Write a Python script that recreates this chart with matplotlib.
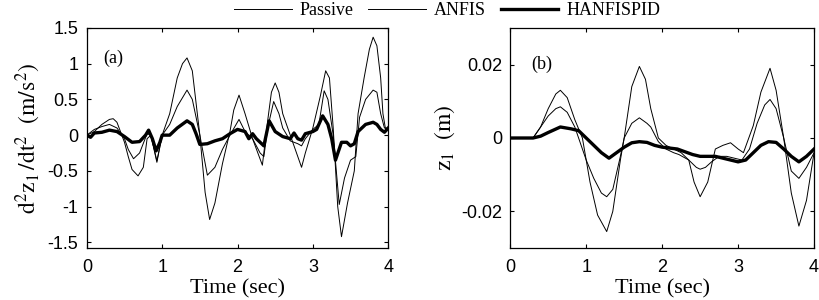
import numpy as np
import matplotlib
matplotlib.use("Agg")
import matplotlib.pyplot as plt

plt.rcParams['mathtext.fontset'] = 'stix'

# ---------- (a) sprung mass acceleration ----------
ta_passive = [0, 0.1, 0.2, 0.3, 0.35, 0.4, 0.5, 0.55, 0.6, 0.68, 0.75, 0.8, 0.85, 0.93, 1.0,
              1.1, 1.2, 1.27, 1.33, 1.4, 1.5, 1.57, 1.63, 1.7, 1.8, 1.9, 1.95, 2.02, 2.1, 2.2,
              2.27, 2.33, 2.4, 2.45, 2.5, 2.55, 2.6, 2.7, 2.8, 2.85, 2.9, 3.0, 3.1, 3.17, 3.22,
              3.27, 3.33, 3.38, 3.46, 3.55, 3.6, 3.68, 3.75, 3.8, 3.85, 3.9, 3.93, 3.97, 4.0]
a_passive = [0, 0.05, 0.15, 0.22, 0.23, 0.18, -0.1, -0.3, -0.48, -0.57, -0.45, -0.05, 0.0, -0.38, 0.0,
             0.3, 0.8, 1.0, 1.08, 0.9, 0.0, -0.8, -1.18, -0.95, -0.4, 0.05, 0.35, 0.56, 0.3, -0.05,
             -0.25, -0.42, 0.2, 0.6, 0.73, 0.6, 0.3, 0.0, -0.3, -0.45, -0.25, 0.1, 0.55, 0.9, 0.8,
             0.1, -1.0, -1.42, -0.95, -0.5, 0.3, 0.8, 1.2, 1.37, 1.25, 0.8, 0.3, 0.05, 0.1]

ta_anfis = [0, 0.1, 0.2, 0.3, 0.4, 0.5, 0.55, 0.62, 0.7, 0.8, 0.85, 0.93, 1.0, 1.1, 1.2, 1.33,
            1.4, 1.5, 1.6, 1.7, 1.8, 1.9, 2.02, 2.1, 2.2, 2.3, 2.35, 2.4, 2.48, 2.55, 2.6, 2.7,
            2.8, 2.85, 2.9, 3.0, 3.08, 3.15, 3.2, 3.27, 3.35, 3.42, 3.5, 3.57, 3.62, 3.7, 3.8,
            3.85, 3.9, 3.95, 4.0]
a_anfis = [0, 0.08, 0.12, 0.15, 0.1, -0.05, -0.2, -0.33, -0.25, 0.02, 0.0, -0.36, 0.0, 0.15, 0.4, 0.63,
           0.5, 0.0, -0.56, -0.45, -0.2, 0.0, 0.22, 0.05, -0.05, -0.25, -0.3, 0.1, 0.47, 0.3, 0.1, -0.08,
           -0.12, -0.15, -0.05, 0.08, 0.15, 0.62, 0.5, 0.0, -0.97, -0.6, -0.35, -0.3, 0.25, 0.5, 0.63,
           0.6, 0.3, 0.1, 0.1]

ta_hanfis = [0, 0.05, 0.1, 0.2, 0.3, 0.4, 0.5, 0.6, 0.7, 0.78, 0.82, 0.87, 0.92, 0.97, 1.0, 1.1,
             1.2, 1.33, 1.4, 1.45, 1.5, 1.6, 1.7, 1.8, 1.9, 2.0, 2.1, 2.15, 2.2, 2.25, 2.3, 2.35,
             2.42, 2.5, 2.6, 2.7, 2.75, 2.8, 2.85, 2.9, 3.0, 3.05, 3.13, 3.2, 3.25, 3.3, 3.38, 3.45,
             3.5, 3.55, 3.6, 3.7, 3.8, 3.85, 3.9, 3.95, 4.0]
a_hanfis = [0, -0.03, 0.03, 0.04, 0.07, 0.05, -0.02, -0.1, -0.09, 0.0, 0.07, -0.05, -0.22, -0.1, 0.0, 0.0,
            0.1, 0.2, 0.15, 0.02, -0.13, -0.12, -0.08, -0.05, 0.02, 0.08, 0.05, -0.05, 0.02, -0.05, -0.1, -0.15,
            0.2, 0.05, -0.02, -0.05, 0.03, -0.05, -0.07, 0.02, 0.05, 0.08, 0.27, 0.15, -0.05, -0.35, -0.1, -0.1,
            -0.15, -0.12, 0.05, 0.15, 0.18, 0.15, 0.08, 0.04, 0.1]

# ---------- (b) sprung mass displacement ----------
tb_passive = [0, 0.3, 0.4, 0.5, 0.6, 0.66, 0.75, 0.85, 0.95, 1.05, 1.15, 1.27, 1.35, 1.45, 1.5,
              1.6, 1.7, 1.78, 1.85, 1.95, 2.05, 2.15, 2.25, 2.35, 2.42, 2.5, 2.6, 2.7, 2.8, 2.9,
              3.0, 3.07, 3.2, 3.3, 3.42, 3.5, 3.6, 3.7, 3.8, 3.9, 4.0]
b_passive = [0, 0, 0.003, 0.008, 0.012, 0.013, 0.011, 0.005, 0.0, -0.012, -0.021, -0.0255, -0.02, -0.006, 0.0,
             0.014, 0.0195, 0.016, 0.008, 0.0, -0.002, -0.003, -0.004, -0.006, -0.012, -0.016, -0.012, -0.003, -0.002, -0.0013,
             -0.003, -0.004, 0.0034, 0.0125, 0.019, 0.013, 0.0, -0.015, -0.024, -0.017, -0.004]

tb_anfis = [0, 0.3, 0.4, 0.5, 0.6, 0.66, 0.75, 0.85, 0.9, 1.0, 1.1, 1.2, 1.27, 1.35, 1.45, 1.5,
            1.6, 1.7, 1.8, 1.85, 1.95, 2.05, 2.15, 2.22, 2.35, 2.45, 2.5, 2.57, 2.65, 2.75, 2.85,
            2.95, 3.05, 3.15, 3.25, 3.35, 3.42, 3.5, 3.6, 3.7, 3.8, 3.9, 4.0]
b_anfis = [0, 0, 0.003, 0.006, 0.008, 0.0085, 0.007, 0.003, 0.0, -0.006, -0.011, -0.015, -0.016, -0.014, -0.005, 0.0,
           0.004, 0.0055, 0.004, 0.003, -0.001, -0.003, -0.004, -0.0045, -0.006, -0.008, -0.0085, -0.008, -0.0065, -0.005, -0.005,
           -0.0055, -0.006, -0.003, 0.004, 0.009, 0.0105, 0.008, 0.0, -0.009, -0.011, -0.008, -0.004]

tb_hanfis = [0, 0.3, 0.4, 0.5, 0.66, 0.8, 0.9, 1.0, 1.1, 1.2, 1.3, 1.4, 1.5, 1.6, 1.7, 1.8, 1.9,
             2.0, 2.2, 2.4, 2.5, 2.7, 2.9, 3.0, 3.1, 3.2, 3.3, 3.4, 3.5, 3.6, 3.7, 3.8, 3.9, 4.0]
b_hanfis = [0, 0, 0.0005, 0.0015, 0.003, 0.0025, 0.002, 0.0, -0.002, -0.004, -0.0055, -0.004, -0.0025, -0.0013, -0.001, -0.0012, -0.002,
            -0.0025, -0.003, -0.0045, -0.005, -0.005, -0.006, -0.0065, -0.006, -0.004, -0.002, -0.001, -0.0012, -0.003, -0.005, -0.0065, -0.005, -0.003]

labels = ["Passive", "ANFIS", "HANFISPID"]

serif = "Liberation Serif"
sans = "Liberation Sans"

fig = plt.figure(figsize=(8.19, 3.0), dpi=100)
ax1 = fig.add_axes([0.106, 0.173, 0.368, 0.734])
ax2 = fig.add_axes([0.623, 0.173, 0.371, 0.734])

l1, = ax1.plot(ta_passive, a_passive, color='k', lw=0.7)
l2, = ax1.plot(ta_anfis, a_anfis, color='k', lw=0.7)
l3, = ax1.plot(ta_hanfis, a_hanfis, color='k', lw=2.4)

ax2.plot(tb_passive, b_passive, color='k', lw=0.7)
ax2.plot(tb_anfis, b_anfis, color='k', lw=0.7)
ax2.plot(tb_hanfis, b_hanfis, color='k', lw=2.4)

ax1.set_xlim(0, 4)
ax1.set_ylim(-1.58, 1.5)
ax1.set_yticks([-1.5, -1, -0.5, 0, 0.5, 1, 1.5])
ax1.set_yticklabels(["-1.5", "-1", "-0.5", "0", "0.5", "1", "1.5"])
ax2.set_xlim(0, 4)
ax2.set_ylim(-0.03, 0.03)
ax2.set_yticks([-0.02, 0, 0.02])
ax2.set_yticklabels(["-0.02", "0", "0.02"])

for ax in (ax1, ax2):
    ax.set_xticks([0, 1, 2, 3, 4])
    ax.tick_params(direction='in', top=True, right=True, length=3, width=0.8,
                   labelsize=13, pad=6)
    ax.tick_params(axis='x', pad=8)
    for lab in ax.get_xticklabels() + ax.get_yticklabels():
        lab.set_fontfamily(sans)
    for sp in ax.spines.values():
        sp.set_linewidth(0.9)
    ax.set_xlabel("Time (sec)", fontsize=16, fontfamily=serif, labelpad=2)

ax1.set_ylabel(r"$\mathrm{d^2 z_1\,/dt^2\ \ (m/s^2)}$", fontsize=17, labelpad=3)
ax2.set_ylabel(r"$\mathrm{z_1\ \ (m)}$", fontsize=17, labelpad=3)

ax1.text(0.35, 1.08, "(a)", fontsize=13, fontfamily=serif, ha='center', va='center')
ax2.text(0.41, 0.0201, "(b)", fontsize=13, fontfamily=serif, ha='center', va='center')

fig.legend([l1, l2, l3], labels, loc='center', bbox_to_anchor=(0.546, 0.965), ncol=3,
           frameon=False, prop={'family': serif, 'size': 13}, handlelength=3.2,
           handletextpad=0.45, columnspacing=0.8, borderaxespad=0)

fig.savefig("out.png", dpi=100)
